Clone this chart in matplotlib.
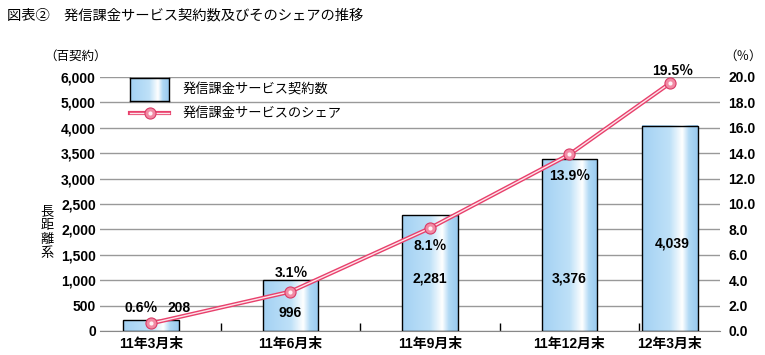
import numpy as np
import matplotlib
matplotlib.use("Agg")
from matplotlib import pyplot as plt
from matplotlib.colors import LinearSegmentedColormap
from matplotlib.lines import Line2D

plt.rcParams['font.family'] = ['Liberation Sans', 'Noto Sans CJK JP', 'DejaVu Sans']

# data
categories = ['11年3月末', '11年6月末', '11年9月末', '11年12月末', '12年3月末']
contracts = [208, 996, 2281, 3376, 4039]          # 百契約
share = [0.6, 3.1, 8.1, 13.9, 19.5]               # %
left_ticklabels = ['0', '500', '1,000', '1,500', '2,000', '2,500',
                   '3,000', '3,500', '4,000', '5,000', '6,000']

# layout (x positions of categories, label positions in left-axis units)
xpos = [0, 1, 2, 3, 3.72]
val_pos = [(0.2, 453), (1.0, 354), (2.0, 1043), (3.0, 1024), (3.74, 1732)]
pct_pos = [(-0.07, 453), (1.01, 1142), (2.0, 1673), (3.0, 3051), (3.74, 5118)]

W, H = 765, 355
fig = plt.figure(figsize=(W / 100, H / 100), dpi=100)
ax = fig.add_axes([100 / W, 1 - 331 / H, 620 / W, 254 / H])
ax2 = ax.twinx()

cmap = LinearSegmentedColormap.from_list(
    'bar', [(0, '#a3d1f3'), (0.5, '#bfe1f8'), (0.72, '#ffffff'),
            (0.84, '#b0d9f5'), (1, '#98c9ef')])
grad = np.linspace(0, 1, 256).reshape(1, -1)

bars = ax.bar(xpos, contracts, width=0.4, facecolor='none',
              edgecolor='black', linewidth=1, zorder=3)
for b in bars:
    x0, y0, w, h = b.get_x(), b.get_y(), b.get_width(), b.get_height()
    ax.imshow(grad, extent=[x0, x0 + w, y0, y0 + h], aspect='auto',
              cmap=cmap, zorder=2, interpolation='bilinear')

ax.set_xlim(-0.366, 4.08)
ax.set_ylim(0, 5000)
ax.set_yticks(np.arange(0, 5001, 500))
ax.set_yticklabels(left_ticklabels)
ax.set_xticks(xpos)
ax.set_xticklabels(categories)
ax.set_xticks([0.5, 1.5, 2.5, 3.5], minor=True)
ax.tick_params(axis='x', which='major', length=0, pad=4, labelsize=10)
ax.tick_params(axis='x', which='minor', direction='in', length=6,
               width=1, color='black')
ax.tick_params(axis='y', length=0, pad=3, labelsize=10)
for t in ax.get_xticklabels() + ax.get_yticklabels():
    t.set_fontweight('bold')
ax.yaxis.grid(True, color='#999999', linewidth=1)
ax.set_axisbelow(True)
for s in ['top', 'left', 'right']:
    ax.spines[s].set_visible(False)
ax.spines['bottom'].set_color('#888888')

# share line
ax2.set_ylim(0, 20)
ax2.set_yticks(np.arange(0, 20.1, 2))
ax2.set_yticklabels([f'{v:.1f}' for v in np.arange(0, 20.1, 2)])
ax2.tick_params(axis='y', length=0, pad=6, labelsize=10)
for t in ax2.get_yticklabels():
    t.set_fontweight('bold')
for s in ax2.spines.values():
    s.set_visible(False)
ax2.plot(xpos, share, color='#e8406c', linewidth=3.0, zorder=4,
         solid_capstyle='round')
ax2.plot(xpos, share, color='#fde4ea', linewidth=1.0, zorder=5)
ax2.plot(xpos, share, linestyle='none', marker='o', markersize=8,
         markerfacecolor='#f28aa4', markeredgecolor='#d93a66',
         markeredgewidth=0.8, zorder=6)
ax2.plot(xpos, share, linestyle='none', marker='o', markersize=3,
         markerfacecolor='#fff2f5', markeredgewidth=0, zorder=7)

# value labels
for (x, y), v in zip(val_pos, contracts):
    ax2.text(x, y / 250, f'{v:,}', ha='center', va='center', fontsize=10,
             fontweight='bold', zorder=8, clip_on=False)
for (x, y), p in zip(pct_pos, share):
    ax2.text(x, y / 250, f'{p}％', ha='center', va='center', fontsize=10,
             fontweight='bold', zorder=8, clip_on=False)

# legend
lax = fig.add_axes([130 / W, 1 - 101 / H, 39 / W, 23 / H])
lax.imshow(grad, aspect='auto', cmap=cmap, interpolation='bilinear')
lax.set_xticks([])
lax.set_yticks([])
for s in lax.spines.values():
    s.set_linewidth(1)
fig.text(183 / W, 1 - 89 / H, '発信課金サービス契約数', fontsize=9.5,
         va='center', ha='left')
ly = 1 - 113 / H
fig.add_artist(Line2D([130 / W, 169 / W], [ly, ly], color='#e8406c',
                      linewidth=3.0, transform=fig.transFigure))
fig.add_artist(Line2D([130 / W, 169 / W], [ly, ly], color='#fde4ea',
                      linewidth=1.0, transform=fig.transFigure))
fig.add_artist(Line2D([150 / W], [ly], marker='o', markersize=8,
                      markerfacecolor='#f28aa4', markeredgecolor='#d93a66',
                      markeredgewidth=0.8, transform=fig.transFigure))
fig.add_artist(Line2D([150 / W], [ly], marker='o', markersize=3,
                      markerfacecolor='#fff2f5', markeredgewidth=0,
                      transform=fig.transFigure))
fig.text(183 / W, ly, '発信課金サービスのシェア', fontsize=9.5,
         va='center', ha='left')

# titles and unit labels
fig.text(7 / W, 1 - 15 / H, '図表②　発信課金サービス契約数及びそのシェアの推移',
         fontsize=10.3, va='center', ha='left')
fig.text(76 / W, 1 - 57 / H, '（百契約）', fontsize=9, va='center', ha='center')
fig.text(743 / W, 1 - 57 / H, '（％）', fontsize=9, va='center', ha='center')
for i, ch in enumerate('長距離系'):
    fig.text(47 / W, 1 - (212 + 14 * i) / H, ch, fontsize=9.5, va='center',
             ha='center', family=['Noto Sans CJK JP'])

fig.savefig('out.png', dpi=100)
